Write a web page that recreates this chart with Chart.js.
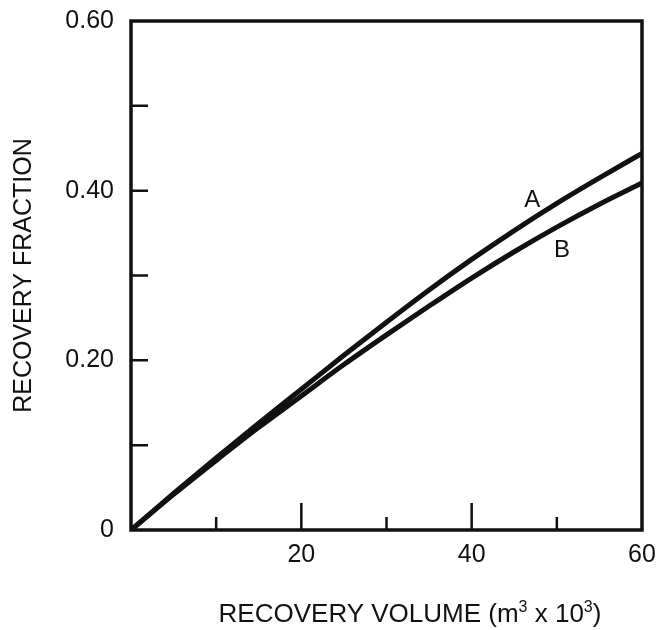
<!DOCTYPE html>
<html>
<head>
<meta charset="utf-8">
<title>Recovery fraction vs recovery volume</title>
<script src="https://cdn.jsdelivr.net/npm/chart.js@4/dist/chart.umd.min.js"></script>
<style>
  html, body { margin: 0; padding: 0; background: #fff; }
  #wrap { width: 658px; height: 630px; }
</style>
</head>
<body>
<div id="wrap"><canvas id="myChart" width="658" height="630"></canvas></div>
<script>
// recovery volume, m3 x 10^3
const volume = [0, 5, 10, 15, 20, 25, 30, 35, 40, 45, 50, 55, 60];
// recovery fraction for the two cases
const curveA = [0, 0.043, 0.085, 0.126, 0.166, 0.206, 0.245, 0.283, 0.319, 0.353, 0.385, 0.415, 0.444];
const curveB = [0, 0.042, 0.082, 0.121, 0.158, 0.195, 0.230, 0.264, 0.297, 0.328, 0.357, 0.384, 0.409];

const curveNames = ['A', 'B'];
// where the A / B tags sit, in data units
const tagX = [47.1, 50.6];
const tagY = [0.389, 0.330];

const xMajor = [20, 40];
const xMinor = [10, 30, 50];
const yTicks = [0.1, 0.2, 0.3, 0.4, 0.5];

const ink = '#111';
const font = 'Liberation Sans, Arial, Helvetica, sans-serif';

function toPoints(ys) {
  return volume.map((v, i) => ({ x: v, y: ys[i] }));
}

// x axis title, drawn by hand so the cubes are real superscripts
function drawXTitle(c, cx, baseline) {
  const parts = [
    ['RECOVERY VOLUME (m', false],
    ['3', true],
    [' x 10', false],
    ['3', true],
    [')', false]
  ];
  const big = '26px ' + font;
  const small = '16px ' + font;
  let total = 0;
  parts.forEach(p => {
    c.font = p[1] ? small : big;
    total += c.measureText(p[0]).width;
  });
  let x = cx - total / 2;
  c.textAlign = 'left';
  c.textBaseline = 'alphabetic';
  parts.forEach(p => {
    c.font = p[1] ? small : big;
    c.fillText(p[0], x, p[1] ? baseline - 10 : baseline);
    x += c.measureText(p[0]).width;
  });
}

// box round the plot, inward ticks, curve tags, x title
const frame = {
  id: 'frame',
  afterDraw(chart) {
    const c = chart.ctx;
    const a = chart.chartArea;
    const xs = chart.scales.x;
    const ys = chart.scales.y;
    c.save();
    c.strokeStyle = ink;
    c.lineWidth = 3.5;
    c.strokeRect(a.left, a.top, a.right - a.left, a.bottom - a.top);

    c.lineWidth = 2.5;
    c.beginPath();
    xMajor.forEach(v => {
      const px = xs.getPixelForValue(v);
      c.moveTo(px, a.bottom);
      c.lineTo(px, a.bottom - 27);
    });
    xMinor.forEach(v => {
      const px = xs.getPixelForValue(v);
      c.moveTo(px, a.bottom);
      c.lineTo(px, a.bottom - 13);
    });
    yTicks.forEach(v => {
      const py = ys.getPixelForValue(v);
      c.moveTo(a.left, py);
      c.lineTo(a.left + 17, py);
    });
    c.stroke();

    c.fillStyle = ink;
    c.font = '24px ' + font;
    c.textAlign = 'center';
    c.textBaseline = 'middle';
    curveNames.forEach((n, i) => {
      c.fillText(n, xs.getPixelForValue(tagX[i]), ys.getPixelForValue(tagY[i]));
    });

    drawXTitle(c, 410, 622);
    c.restore();
  }
};

var ctx = document.getElementById('myChart').getContext('2d');

var myChart = new Chart(ctx, {
  type: 'line',
  data: {
    datasets: [{
      label: 'A',
      data: toPoints(curveA),
      borderColor: ink,
      borderWidth: 5,
      pointRadius: 0,
      cubicInterpolationMode: 'monotone',
      fill: false
    }, {
      label: 'B',
      data: toPoints(curveB),
      borderColor: ink,
      borderWidth: 5,
      pointRadius: 0,
      cubicInterpolationMode: 'monotone',
      fill: false
    }]
  },
  options: {
    responsive: false,
    animation: false,
    layout: {
      padding: { top: 21, right: 16, left: 0, bottom: 0 }
    },
    plugins: {
      legend: { display: false },
      tooltip: { enabled: false }
    },
    scales: {
      x: {
        type: 'linear',
        min: 0,
        max: 60,
        grid: { display: false, drawTicks: false },
        border: { display: false },
        ticks: {
          stepSize: 10,
          padding: 10,
          color: ink,
          font: { family: font, size: 25 },
          callback: v => (v % 20 === 0 && v !== 0) ? String(v) : ''
        },
        afterFit: s => {
          s.height = 100;
          s.paddingLeft = 0;
          s.paddingRight = 0;
        }
      },
      y: {
        min: 0,
        max: 0.6,
        grid: { display: false, drawTicks: false },
        border: { display: false },
        ticks: {
          stepSize: 0.1,
          padding: 17,
          color: ink,
          font: { family: font, size: 25 },
          callback: v => {
            const k = Math.round(v * 10);
            if (k % 2) return '';
            return k === 0 ? '0' : v.toFixed(2);
          }
        },
        title: {
          display: true,
          text: 'RECOVERY FRACTION',
          color: ink,
          font: { family: font, size: 25 },
          padding: { top: 9, bottom: 0 }
        },
        afterFit: s => {
          s.width = 131;
          s.paddingTop = 0;
          s.paddingBottom = 0;
        }
      }
    }
  },
  plugins: [frame]
});
</script>
</body>
</html>
